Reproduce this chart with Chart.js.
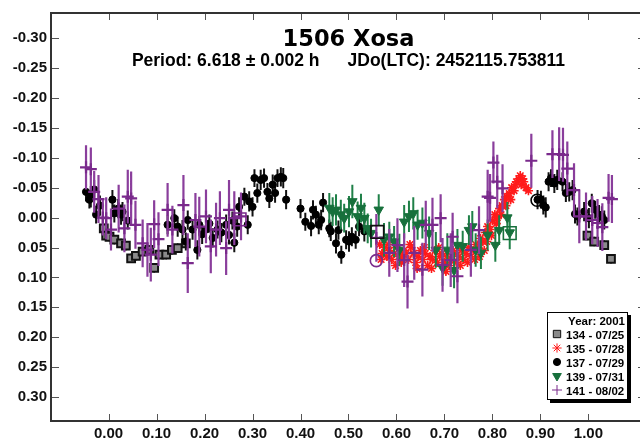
<!DOCTYPE html>
<html>
<head>
<meta charset="utf-8">
<title>1506 Xosa</title>
<script src="https://cdn.jsdelivr.net/npm/chart.js@4.4.1/dist/chart.umd.min.js"></script>
<style>
  html, body { margin: 0; padding: 0; background: #fff; overflow: hidden; }
  #wrap { width: 648px; height: 439px; }
</style>
</head>
<body>
<div id="wrap"><canvas id="lightcurve" width="648" height="439"></canvas></div>
<script>
// axis ticks
const xTicks = [0.0, 0.1, 0.2, 0.3, 0.4, 0.5, 0.6, 0.7, 0.8, 0.9, 1.0];
const yTicks = [-0.30, -0.25, -0.20, -0.15, -0.10, -0.05, 0.00, 0.05, 0.10, 0.15, 0.20, 0.25, 0.30];

const nightLabels = ['134 - 07/25', '135 - 07/28', '137 - 07/29', '139 - 07/31', '141 - 08/02'];
const nightColors = ['#111', '#ff1a1a', '#000', '#17703c', '#7a2a8c'];

// night 134
const phase134 = [-0.010, -0.005, 0.002, 0.012, 0.026, 0.036, 0.047, 0.057, 0.071, 0.085, 0.095, 0.106, 0.120, 0.132, 0.144, 0.161,
  0.998, 1.012, 1.033, 1.047];
const mag134 = [0.018, 0.030, 0.032, 0.037, 0.043, 0.047, 0.068, 0.064, 0.057, 0.054, 0.084, 0.062, 0.062, 0.054, 0.051, 0.043,
  0.030, 0.040, 0.046, 0.069];
const err134 = [0.008, 0.008, 0.008, 0.008, 0.008, 0.008, 0.008, 0.008, 0.008, 0.008, 0.008, 0.008, 0.008, 0.008, 0.008, 0.008,
  0.008, 0.008, 0.008, 0.008];

// night 135
const phase135 = [0.565, 0.568, 0.570, 0.575, 0.580, 0.583, 0.585, 0.590, 0.595, 0.598, 0.600, 0.605, 0.610, 0.613, 0.615, 0.620,
  0.625, 0.628, 0.630, 0.635, 0.640, 0.643, 0.645, 0.650, 0.655, 0.658, 0.660, 0.665, 0.670, 0.673, 0.675, 0.680,
  0.685, 0.688, 0.690, 0.695, 0.700, 0.703, 0.705, 0.710, 0.715, 0.718, 0.720, 0.725, 0.730, 0.733, 0.735, 0.740,
  0.745, 0.748, 0.750, 0.755, 0.760, 0.763, 0.765, 0.770, 0.773, 0.775, 0.780, 0.783, 0.785, 0.788, 0.790, 0.795,
  0.798, 0.800, 0.805, 0.808, 0.810, 0.815, 0.818, 0.820, 0.825, 0.828, 0.830, 0.835, 0.838, 0.840, 0.845, 0.848,
  0.850, 0.855, 0.858, 0.860, 0.863, 0.865, 0.870, 0.875];
const mag135 = [0.045, 0.070, 0.060, 0.050, 0.065, 0.045, 0.055, 0.070, 0.060, 0.080, 0.050, 0.065, 0.075, 0.065, 0.055, 0.060,
  0.070, 0.045, 0.050, 0.060, 0.075, 0.085, 0.065, 0.055, 0.070, 0.050, 0.060, 0.080, 0.065, 0.085, 0.070, 0.055,
  0.075, 0.050, 0.065, 0.060, 0.075, 0.090, 0.065, 0.080, 0.070, 0.055, 0.060, 0.075, 0.065, 0.080, 0.055, 0.070,
  0.060, 0.075, 0.050, 0.065, 0.055, 0.070, 0.045, 0.050, 0.065, 0.035, 0.040, 0.055, 0.025, 0.040, 0.015, 0.020,
  0.030, 0.005, -0.005, 0.010, 0.000, -0.015, -0.005, -0.020, -0.030, -0.020, -0.035, -0.040, -0.030, -0.050, -0.045, -0.055,
  -0.060, -0.065, -0.070, -0.055, -0.065, -0.060, -0.050, -0.045];

// night 137
const phase137 = [-0.047, -0.040, -0.037, -0.030, -0.026, -0.018, 0.008, 0.012, 0.020, 0.026, 0.029, 0.040,
  0.123, 0.137, 0.144, 0.154, 0.161, 0.165, 0.175, 0.185, 0.189, 0.195, 0.203, 0.210, 0.217, 0.227, 0.235, 0.245,
  0.251, 0.258, 0.262, 0.268, 0.272, 0.283, 0.290, 0.293, 0.300, 0.304, 0.310, 0.317, 0.324, 0.331, 0.335, 0.342,
  0.347, 0.352, 0.359, 0.364, 0.370,
  0.400, 0.410, 0.422, 0.426, 0.432, 0.438, 0.443, 0.447, 0.460, 0.463, 0.474, 0.479, 0.485, 0.495, 0.501, 0.507,
  0.515, 0.522, 0.533,
  0.894, 0.901, 0.906, 0.911, 0.917, 0.922, 0.929, 0.935, 0.946, 0.953, 0.960, 0.967, 0.972, 0.977, 0.991, 1.001,
  1.007, 1.014, 1.022, 1.028, 1.033];
const mag137 = [-0.043, -0.030, -0.035, -0.047, -0.005, -0.020, -0.030, -0.007, -0.015, -0.005, -0.010, 0.005,
  0.012, 0.001, 0.015, 0.020, 0.040, 0.004, 0.020, 0.054, 0.012, 0.028, 0.020, 0.010, 0.034, 0.020, 0.025, 0.012,
  0.029, 0.005, 0.042, 0.015, -0.018, -0.035, 0.012, -0.027, -0.018, -0.066, -0.041, -0.063, -0.066, -0.043, -0.032, -0.055,
  -0.041, -0.066, -0.068, -0.066, -0.030,
  -0.015, 0.007, 0.014, -0.013, -0.005, 0.012, 0.004, -0.025, 0.018, 0.023, 0.043, 0.021, 0.062, 0.037, 0.040, 0.032,
  0.037, 0.015, 0.023,
  -0.030, -0.030, -0.021, -0.017, -0.060, -0.066, -0.057, -0.063, -0.060, -0.041, -0.043, -0.046, -0.006, -0.002, -0.010, 0.001,
  -0.024, -0.013, -0.005, -0.002, 0.004];
const err137 = [0.016, 0.015, 0.018, 0.016, 0.015, 0.017, 0.016, 0.015, 0.016, 0.017, 0.016, 0.015,
  0.016, 0.015, 0.017, 0.016, 0.015, 0.016, 0.017, 0.016, 0.015, 0.016, 0.017, 0.015, 0.016, 0.015, 0.016, 0.017,
  0.016, 0.015, 0.016, 0.017, 0.016, 0.015, 0.016, 0.017, 0.016, 0.015, 0.016, 0.017, 0.016, 0.015, 0.016, 0.017,
  0.016, 0.015, 0.016, 0.017, 0.016,
  0.016, 0.015, 0.017, 0.016, 0.015, 0.016, 0.017, 0.016, 0.015, 0.016, 0.017, 0.016, 0.015, 0.016, 0.017, 0.016,
  0.015, 0.016, 0.017,
  0.016, 0.015, 0.016, 0.017, 0.016, 0.015, 0.016, 0.017, 0.016, 0.015, 0.016, 0.017, 0.016, 0.015, 0.016, 0.017,
  0.016, 0.015, 0.016, 0.017, 0.016];

// night 139
const phase139 = [0.460, 0.467, 0.474, 0.484, 0.491, 0.501, 0.508, 0.519, 0.526, 0.533, 0.540, 0.547, 0.563, 0.574, 0.585, 0.595,
  0.606, 0.616, 0.626, 0.635, 0.644, 0.654, 0.668, 0.682, 0.696, 0.706, 0.720, 0.727, 0.738, 0.751, 0.758, 0.765,
  0.776, 0.790, 0.806, 0.814, 0.831, 0.836];
const mag139 = [-0.016, -0.010, -0.013, -0.005, 0.001, -0.010, -0.027, -0.002, -0.016, 0.001, 0.018, 0.026, -0.013, 0.037, 0.032, 0.040,
  0.054, 0.007, -0.002, -0.007, 0.012, 0.009, 0.026, 0.054, 0.084, 0.054, 0.088, 0.046, 0.048, 0.021, 0.015, 0.054,
  0.059, 0.029, 0.046, 0.021, 0.000, 0.025];
const err139 = [0.025, 0.024, 0.026, 0.025, 0.024, 0.026, 0.028, 0.025, 0.024, 0.026, 0.025, 0.024, 0.026, 0.028, 0.025, 0.026,
  0.027, 0.028, 0.026, 0.027, 0.025, 0.026, 0.028, 0.030, 0.030, 0.028, 0.030, 0.027, 0.026, 0.025, 0.026, 0.028,
  0.027, 0.026, 0.028, 0.025, 0.026, 0.028];

// night 141
const phase141 = [-0.047, -0.037, -0.030, -0.021, -0.012, -0.005, 0.005, 0.021, 0.033, 0.040, 0.047, 0.056, 0.071, 0.081, 0.088, 0.095,
  0.104, 0.123, 0.133, 0.156, 0.165, 0.181, 0.189, 0.203, 0.213, 0.224, 0.232, 0.245, 0.251, 0.262, 0.276,
  0.558, 0.585, 0.602, 0.616, 0.623, 0.637, 0.654, 0.661, 0.675, 0.692, 0.696, 0.713, 0.717, 0.727, 0.755, 0.772,
  0.790, 0.795, 0.802, 0.810, 0.821, 0.881, 0.925, 0.939, 0.947, 0.956, 0.970, 0.981, 0.995, 1.008, 1.019, 1.029,
  1.042, 1.049];
const mag141 = [-0.084, -0.081, -0.043, -0.031, 0.000, 0.001, 0.020, -0.015, 0.018, -0.035, -0.032, 0.012, 0.043, 0.054, 0.062, 0.011,
  0.036, -0.013, 0.020, -0.021, 0.076, 0.004, 0.015, -0.002, 0.048, 0.020, 0.001, 0.051, -0.013, 0.001, -0.002,
  0.034, 0.059, 0.046, 0.071, 0.107, 0.059, 0.087, 0.012, 0.012, 0.001, 0.079, 0.071, 0.032, 0.098, 0.054, 0.021,
  -0.035, -0.033, -0.092, -0.060, -0.049, -0.095, -0.106, -0.106, -0.105, -0.082, -0.046, -0.002, -0.002, 0.004, 0.009, 0.016,
  -0.033, -0.031];
const err141 = [0.037, 0.036, 0.035, 0.040, 0.030, 0.035, 0.035, 0.040, 0.040, 0.045, 0.045, 0.040, 0.040, 0.045, 0.045, 0.040,
  0.045, 0.045, 0.040, 0.050, 0.050, 0.045, 0.050, 0.045, 0.045, 0.045, 0.045, 0.045, 0.050, 0.045, 0.040,
  0.040, 0.040, 0.045, 0.045, 0.045, 0.045, 0.045, 0.040, 0.045, 0.040, 0.045, 0.045, 0.040, 0.045, 0.045, 0.040,
  0.045, 0.040, 0.035, 0.045, 0.040, 0.045, 0.040, 0.045, 0.045, 0.045, 0.045, 0.045, 0.040, 0.040, 0.040, 0.040,
  0.040, 0.040];

// ringed points (night index into nightLabels)
const ringPhase = [0.558, 0.893];
const ringMag = [0.072, -0.029];
const ringNight = [4, 2];
const boxPhase = [0.560, 0.273, 0.836];
const boxMag = [0.024, 0.003, 0.026];
const boxNight = [0, 4, 3];

function makePoints(phase, mag, err) {
  return phase.map((p, i) => ({ x: p, y: mag[i], err: err[i] }));
}

const err135 = phase135.map(() => 0.006);

const datasets = [
  { label: nightLabels[0], data: makePoints(phase134, mag134, err134), order: 5,
    pointStyle: 'rect', pointRadius: 5.5, backgroundColor: '#8a8a8a', borderColor: '#111', borderWidth: 2,
    barColor: '#333', barWidth: 1.5 },
  { label: nightLabels[1], data: makePoints(phase135, mag135, err135), order: 3,
    pointStyle: 'star', pointRadius: 4.6, backgroundColor: '#ff1a1a', borderColor: '#ff1a1a', borderWidth: 1.6,
    barColor: '#ff3030', barWidth: 1 },
  { label: nightLabels[2], data: makePoints(phase137, mag137, err137), order: 4,
    pointStyle: 'circle', pointRadius: 3.6, backgroundColor: '#000', borderColor: '#000', borderWidth: 1,
    barColor: '#111', barWidth: 2 },
  { label: nightLabels[3], data: makePoints(phase139, mag139, err139), order: 2,
    pointStyle: 'triangle', pointRotation: 180, pointRadius: 5.5, backgroundColor: '#17703c', borderColor: '#17703c', borderWidth: 1,
    barColor: '#1f8048', barWidth: 2 },
  { label: nightLabels[4], data: makePoints(phase141, mag141, err141), order: 1,
    pointStyle: 'cross', pointRadius: 6, backgroundColor: '#7a2a8c', borderColor: '#7a2a8c', borderWidth: 2.2,
    barColor: '#8a3e9c', barWidth: 2.2 }
];

// open markers sit on top, outside the legend
const markers = [
  { data: ringPhase.map((p, i) => ({ x: p, y: ringMag[i] })), order: 0, legend: false,
    pointStyle: 'circle', pointRadius: 6, backgroundColor: 'rgba(0,0,0,0)', borderWidth: 1.6,
    borderColor: c => nightColors[ringNight[c.dataIndex]] },
  { data: boxPhase.map((p, i) => ({ x: p, y: boxMag[i] })), order: 0, legend: false,
    pointStyle: 'rect', pointRadius: 9, backgroundColor: 'rgba(0,0,0,0)', borderWidth: 1.6,
    borderColor: c => nightColors[boxNight[c.dataIndex]] }
];

// vertical error bars, drawn just under each night's markers
const errorBars = {
  id: 'errorBars',
  beforeDatasetDraw(chart, args) {
    const ds = chart.data.datasets[args.index];
    if (!ds.barColor) return;
    const xs = chart.scales.x, ys = chart.scales.y;
    const ctx = chart.ctx;
    ctx.save();
    ctx.strokeStyle = ds.barColor;
    ctx.lineWidth = ds.barWidth;
    ctx.beginPath();
    ds.data.forEach(p => {
      const px = xs.getPixelForValue(p.x);
      ctx.moveTo(px, ys.getPixelForValue(p.y - p.err));
      ctx.lineTo(px, ys.getPixelForValue(p.y + p.err));
    });
    ctx.stroke();
    ctx.restore();
  }
};

// frame, inward ticks, titles and the boxed legend
const decorations = {
  id: 'decorations',
  afterDraw(chart) {
    const ctx = chart.ctx;
    const a = chart.chartArea;
    const xs = chart.scales.x, ys = chart.scales.y;
    ctx.save();

    ctx.strokeStyle = '#555';
    ctx.lineWidth = 1;
    ctx.beginPath();
    xTicks.forEach(v => {
      const px = Math.round(xs.getPixelForValue(v)) + 0.5;
      ctx.moveTo(px, a.bottom); ctx.lineTo(px, a.bottom - 7);
      ctx.moveTo(px, a.top); ctx.lineTo(px, a.top + 7);
    });
    yTicks.forEach(v => {
      const py = Math.round(ys.getPixelForValue(v)) + 0.5;
      ctx.moveTo(a.left, py); ctx.lineTo(a.left + 8, py);
      ctx.moveTo(a.right, py); ctx.lineTo(a.right - 8, py);
    });
    ctx.stroke();

    ctx.strokeStyle = '#333';
    ctx.lineWidth = 2;
    ctx.strokeRect(a.left, a.top, a.right - a.left, a.bottom - a.top);

    const cx = (a.left + a.right) / 2;
    ctx.fillStyle = '#000';
    ctx.textBaseline = 'alphabetic';
    ctx.textAlign = 'center';
    ctx.font = 'bold 22.5px "DejaVu Sans", sans-serif';
    ctx.fillText('1506 Xosa', cx, a.top + 33);

    ctx.font = 'bold 17.5px "Liberation Sans", Arial, sans-serif';
    ctx.textAlign = 'left';
    const left = 'Period: 6.618 \u00b1 0.002 h';
    const right = 'JDo(LTC): 2452115.753811';
    const gap = 28;
    const wl = ctx.measureText(left).width, wr = ctx.measureText(right).width;
    const sx = cx - (wl + gap + wr) / 2;
    ctx.fillText(left, sx, a.top + 53);
    ctx.fillText(right, sx + wl + gap, a.top + 53);

    // legend box
    const bw = 81, bh = 88;
    const bx = a.right - 18 - bw, by = a.bottom - 21 - bh;
    ctx.fillStyle = '#000';
    ctx.fillRect(bx + 3, by + 3, bw, bh);
    ctx.fillStyle = '#fff';
    ctx.fillRect(bx, by, bw, bh);
    ctx.strokeStyle = '#000';
    ctx.lineWidth = 1;
    ctx.strokeRect(bx + 0.5, by + 0.5, bw - 1, bh - 1);

    ctx.font = 'bold 11.5px "Liberation Sans", Arial, sans-serif';
    ctx.fillStyle = '#000';
    ctx.textAlign = 'right';
    ctx.fillText('Year: 2001', bx + bw - 3, by + 13);
    ctx.textAlign = 'left';
    chart.data.datasets.filter(ds => ds.legend !== false).forEach((ds, i) => {
      const ry = by + 22 + i * 14;
      ctx.fillStyle = ds.backgroundColor;
      ctx.strokeStyle = ds.borderColor;
      Chart.helpers.drawPoint(ctx, {
        pointStyle: ds.pointStyle,
        radius: ds.pointStyle === 'rect' ? 5.2 : Math.min(ds.pointRadius, 5),
        rotation: ds.pointRotation || 0,
        borderWidth: ds.borderWidth
      }, bx + 10, ry);
      ctx.fillStyle = '#000';
      ctx.fillText(ds.label, bx + 19, ry + 4.5);
    });
    ctx.restore();
  }
};

const tickFont = { family: '"Liberation Sans", Arial, sans-serif', size: 15, weight: 'bold' };

new Chart(document.getElementById('lightcurve'), {
  type: 'scatter',
  data: { datasets: datasets.concat(markers) },
  options: {
    responsive: false,
    animation: false,
    devicePixelRatio: 1,
    layout: { autoPadding: false, padding: { top: 13, right: 2, left: 0, bottom: 0 } },
    plugins: { legend: { display: false }, tooltip: { enabled: false } },
    scales: {
      x: {
        type: 'linear', min: -0.12, max: 1.12,
        afterBuildTicks: s => { s.ticks = xTicks.map(v => ({ value: v })); },
        afterFit: s => { s.height = 18; s.paddingLeft = 0; s.paddingRight = 0; },
        grid: { display: false, drawTicks: false },
        border: { display: false },
        ticks: { font: tickFont, color: '#111', padding: 4, maxRotation: 0, autoSkip: false,
          callback: v => v.toFixed(2) }
      },
      y: {
        type: 'linear', reverse: true, min: -0.342, max: 0.34,
        afterBuildTicks: s => { s.ticks = yTicks.map(v => ({ value: v })); },
        afterFit: s => { s.width = 51; s.paddingTop = 0; s.paddingBottom = 0; },
        grid: { display: false, drawTicks: false },
        border: { display: false },
        ticks: { font: tickFont, color: '#111', padding: 4, autoSkip: false,
          callback: v => v.toFixed(2) }
      }
    }
  },
  plugins: [errorBars, decorations]
});
</script>
</body>
</html>
